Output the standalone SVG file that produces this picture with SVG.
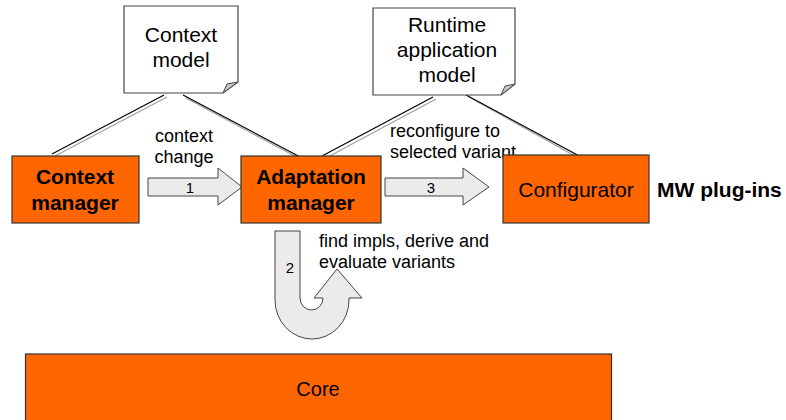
<svg xmlns="http://www.w3.org/2000/svg" width="786" height="420" viewBox="0 0 786 420">
  <defs>
    <style>
      text { font-family: "Liberation Sans", Arial, sans-serif; fill: #000; }
      .box { fill: #FF6600; stroke: #333; stroke-width: 1.2; }
      .note { fill: #fff; stroke: #444; stroke-width: 1.2; }
      .fold { fill: #c8c8c8; stroke: #444; stroke-width: 1; stroke-linejoin: round; }
      .flow { fill: #ebebeb; stroke: #444; stroke-width: 1; }
      .link { stroke: #000; stroke-width: 1.2; fill: none; }
      .shade { stroke: #a0a0a0; stroke-width: 1.2; fill: none; }
      .title { font-size: 21px; text-anchor: middle; }
      .bold { font-size: 21px; font-weight: bold; text-anchor: middle; }
      .label { font-size: 18px; }
      .num { font-size: 15px; text-anchor: middle; }
    </style>
  </defs>

  <!-- connectors: model notes linked to managers, with a soft shadow line -->
  <g id="connectors">
    <g class="shade">
      <line x1="167" y1="97" x2="55" y2="156"/>
      <line x1="186" y1="98" x2="304" y2="161"/>
      <line x1="436" y1="99" x2="326" y2="158"/>
      <line x1="469" y1="97" x2="584" y2="161"/>
    </g>
    <g class="link">
      <line x1="164" y1="95" x2="52" y2="154"/>
      <line x1="183" y1="95" x2="302" y2="158"/>
      <line x1="433" y1="97" x2="322" y2="156"/>
      <line x1="466" y1="95" x2="583" y2="158"/>
    </g>

    <!-- step 1: context change -->
    <g id="flow-1">
      <path class="flow" d="M148,178 H218 V168 L242,187 L218,205 V196 H148 Z"/>
      <text class="num" x="190" y="193">1</text>
      <text class="label" x="184" y="142" text-anchor="middle">context</text>
      <text class="label" x="184" y="163" text-anchor="middle">change</text>
    </g>

    <!-- step 3: reconfigure -->
    <g id="flow-3">
      <path class="flow" d="M385,178 H463 V168 L489,187 L463,205 V196 H385 Z"/>
      <text class="num" x="431" y="193">3</text>
      <text class="label" x="390" y="137">reconfigure to</text>
      <text class="label" x="390" y="158">selected variant</text>
    </g>

    <!-- step 2: U-turn -->
    <g id="flow-2">
      <path class="flow" d="M275,231 H300 V298 A11.5,12 0 0 0 323,298 H314 L337,269 L362,298 H349 V300 A37,39 0 0 1 275,300 Z"/>
      <text class="num" x="290" y="273">2</text>
      <text class="label" x="319" y="247">find impls, derive and</text>
      <text class="label" x="319" y="268">evaluate variants</text>
    </g>
  </g>

  <g id="context-model">
    <path class="note" d="M124,6 H238 V82 L223,93 H124 Z"/>
    <path class="fold" d="M238,82 L223,93 L227,84 Z"/>
    <text class="title" x="181" y="42">Context</text>
    <text class="title" x="181" y="67">model</text>
  </g>

  <g id="runtime-model">
    <path class="note" d="M373,8 H515 V84 L501,95 H373 Z"/>
    <path class="fold" d="M515,84 L501,95 L505,86 Z"/>
    <text class="title" x="447" y="32">Runtime</text>
    <text class="title" x="447" y="57">application</text>
    <text class="title" x="447" y="82">model</text>
  </g>

  <g id="context-manager">
    <rect class="box" x="12" y="156" width="127" height="67"/>
    <text class="bold" x="75" y="184">Context</text>
    <text class="bold" x="75" y="210">manager</text>
  </g>

  <g id="adaptation-manager">
    <rect class="box" x="241" y="156" width="140" height="67"/>
    <text class="bold" x="311" y="184">Adaptation</text>
    <text class="bold" x="311" y="210">manager</text>
  </g>

  <g id="configurator">
    <rect class="box" x="503" y="155" width="146" height="68"/>
    <text class="title" x="576" y="197">Configurator</text>
  </g>

  <g id="mw-plugins">
    <text x="657" y="197" font-size="21" font-weight="bold">MW plug-ins</text>
  </g>

  <g id="core">
    <rect class="box" x="25.5" y="354" width="586" height="70"/>
    <text x="318" y="396" font-size="20" text-anchor="middle">Core</text>
  </g>
</svg>
